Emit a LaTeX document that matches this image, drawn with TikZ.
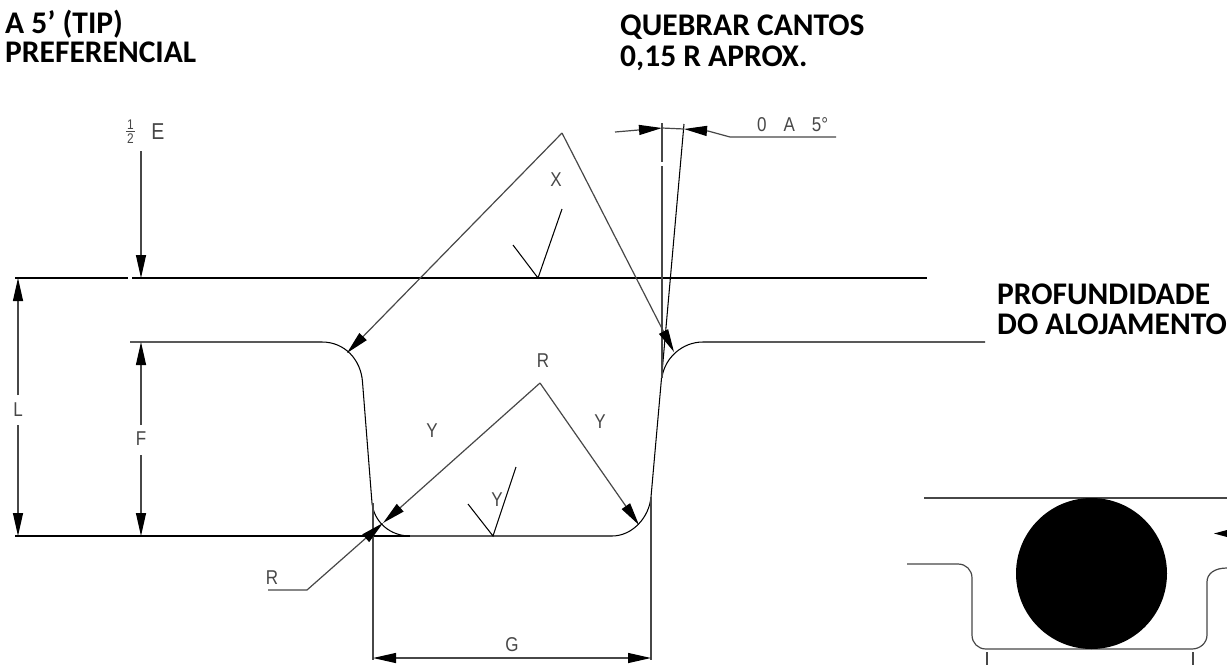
\documentclass[tikz,border=0pt]{standalone}
\usepackage{fontspec}
\setmainfont{Liberation Sans}
\newfontfamily\titlefont[BoldFont=Carlito Bold]{Carlito}
\usetikzlibrary{arrows.meta}
\tikzset{
  part/.style={line width=1.05pt,black},
  dim/.style={line width=1.2pt,black!72},
  tip/.style={-{Triangle[length=23pt,width=10pt,color=black,fill=black]}},
  dimtip/.style={dim,tip},
  cad/.style={font=\fontsize{20}{20}\selectfont,text=black!72,inner sep=0pt,xscale=.85},
  gapped/.style={cad,fill=white,inner ysep=3pt,inner xsep=3pt},
  title/.style={font=\titlefont\bfseries\fontsize{31.5}{#1}\selectfont,text=black,inner sep=0pt,align=left,anchor=north west}
}
\begin{document}
\begin{tikzpicture}[x=1pt,y=-1pt]
\useasboundingbox (0,0) rectangle (1227,665);
% titles
\node[title=29] (t1) at (5,10) {A 5’ (TIP)\\PREFERENCIAL};
\node[title=31] (t2) at (620,15) {QUEBRAR CANTOS\\0,15 R APROX.};
\node[title=30] (t3) at (997,284) {PROFUNDIDADE\\DO ALOJAMENTO};
% main profile
\draw[part] (15,278) -- (128,278) (132,278) -- (927,278);
\draw[part] (130,342) -- (322,342) .. controls (345,342) and (361,360) .. (362.5,382) -- (372,503)
  .. controls (374,522) and (390,536) .. (410,536) -- (612,536)
  .. controls (632,536) and (649,518) .. (651,497) -- (684,124);
\draw[part] (15,536) -- (410,536);
\draw[part] (662,377) .. controls (665,358) and (682,342) .. (703,342) -- (985,342);
% vertical extension lines
\draw[dim] (662,123) -- (662,162) (662,166) -- (662,378);
\draw[dim] (373,503) -- (373,660);
\draw[dim] (651,497) -- (651,660);
% dimensions
\draw[dimtip] (141,151) -- (141,278);
\draw[dimtip] (18,395) -- (18,278);
\draw[dimtip] (18,425) -- (18,536);
\draw[dimtip] (141,425) -- (141,342);
\draw[dimtip] (141,455) -- (141,536);
\draw[dimtip] (512,658) -- (373,658);
\draw[dimtip] (512,658) -- (651,658);
% leaders
\draw[dimtip] (562,133) -- (347,353);
\draw[dimtip] (562,133) -- (674,352);
\draw[dimtip] (540,383) -- (383,523);
\draw[dimtip] (540,383) -- (639,525);
\draw[dimtip] (268,590) -- (307,590) -- (383,523);
% angle
\draw[dimtip] (615,132) -- (662,128);
\draw[dimtip] (836,137) -- (730,137) -- (708,131) -- (684,129);
\draw[dim] (662,128) -- (684,129);
% surface marks
\draw[part] (513,245) -- (538,278) -- (562,209);
\draw[part] (468,504) -- (493,536) -- (516,467);
% labels
\node[cad,font=\fontsize{14}{14}\selectfont] (half) at (130.5,132) {\shortstack{1\\[-2pt]\rule{11pt}{1pt}\\[-1pt]2}};
\node[cad,font=\fontsize{23}{23}\selectfont] (e) at (158,131.5) {E};
\node[gapped] (l) at (18,410) {L};
\node[gapped] (f) at (141,439) {F};
\node[cad] (x) at (556,180) {X};
\node[cad] (r1) at (543,361) {R};
\node[cad] (y1) at (432,431) {Y};
\node[cad] (y2) at (600,422) {Y};
\node[cad] (y3) at (497,500) {Y};
\node[cad] (r2) at (272,578) {R};
\node[cad] (g) at (512,645) {G};
\node[cad,anchor=west] (ang) at (757,124.5) {0\hspace{20pt}A\hspace{20pt}5°};
% right detail
\draw[dim] (924,498) -- (1227,498);
\draw[dim] (907,564) -- (958,564) .. controls (966,564) and (972,570) .. (972,578) -- (972,635)
  .. controls (972,643) and (978,649) .. (986,649) -- (1192,649)
  .. controls (1200,649) and (1207,643) .. (1207,635) -- (1207,582)
  .. controls (1207,574) and (1214,568) .. (1227,568);
\fill[black] (1091.5,573.5) circle[radius=75.5];
\draw[dim] (987,652) -- (987,665) (1193,652) -- (1193,665);
\fill[black] (1214,533.5) -- (1227,530) -- (1227,537) -- cycle;
\end{tikzpicture}
\end{document}
